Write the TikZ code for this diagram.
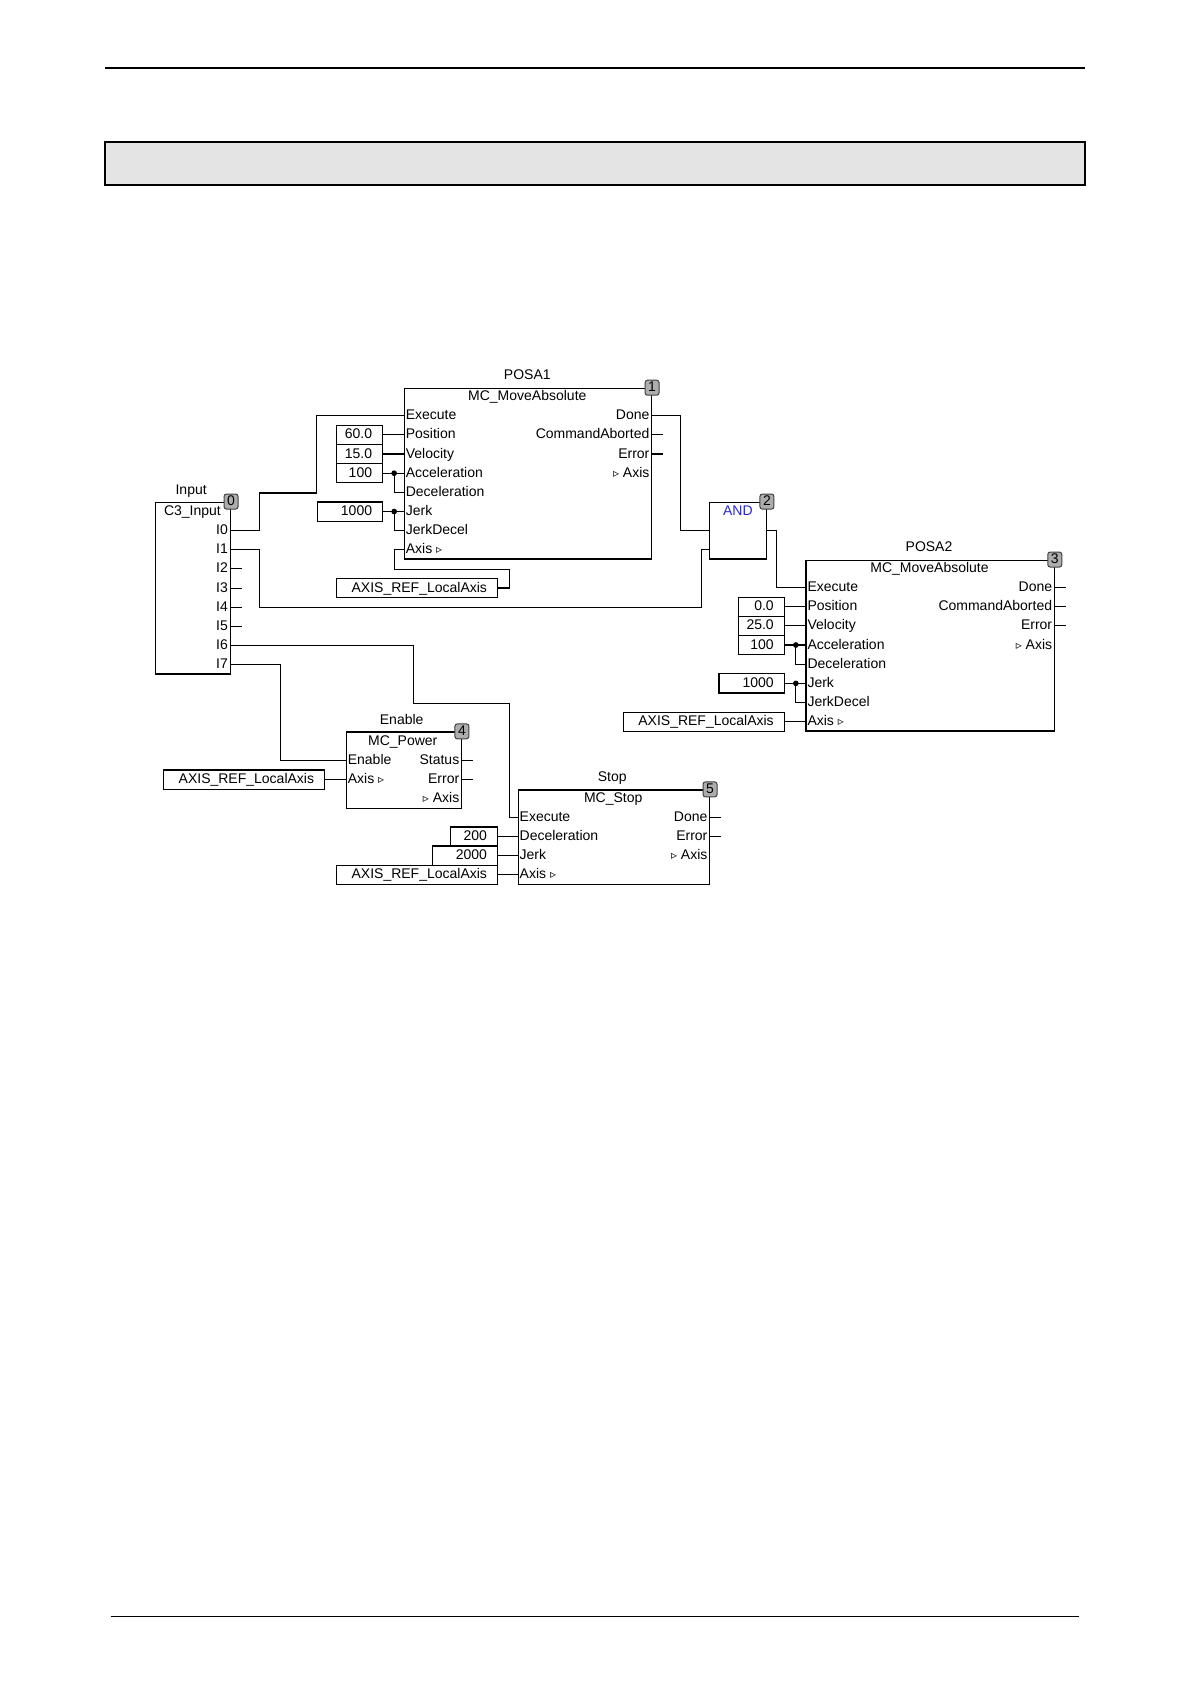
\documentclass[tikz,border=0pt]{standalone}
\usepackage{fontspec}
\setmainfont{Liberation Sans}
\newfontfamily\symf{DejaVu Sans}
\definecolor{hdr}{RGB}{228,228,228}
\definecolor{andblue}{RGB}{40,40,215}
\newdimen\ux \ux=0.537pt
\newcommand\tri{{\symf\fontsize{6}{7}\selectfont ▹}}
\newcommand\cbx[4]{\node[cbox] (#1) at (#2) {\hbox to #3\ux{\hfil #4\hskip 10\ux}};}
\tikzset{
 every node/.style={font=\fontsize{7}{8.4}\selectfont, inner sep=0pt},
 wire/.style={line width=0.55pt},
 blk/.style={draw, line width=0.6pt, anchor=north west},
 pinl/.style={anchor=west, text height=5.1pt, text depth=1pt},
 pinr/.style={anchor=east, text height=5.1pt, text depth=1pt},
 ttl/.style={text height=5.1pt, text depth=1pt},
 cbox/.style={draw, line width=0.6pt, anchor=east, minimum height=17.86*0.537pt, text height=5.1pt, text depth=1pt},
 badge/.style={draw=black!75, fill=black!32, rounded corners=1.2pt, minimum width=13*0.537pt, minimum height=14*0.537pt, line width=0.5pt, text height=5.1pt, text depth=1pt},
 jdot/.style={circle, draw=black, fill=black, inner sep=0pt, minimum size=2.4pt},
}
\begin{document}
\begin{tikzpicture}[x=0.537pt,y=-0.537pt]
\fill[white] (0,0) rectangle (1108,1568);
\useasboundingbox (0,0) rectangle (1108,1568);
% page header / footer
\draw[line width=1.1pt] (98,63) -- (1010,63);
\draw[line width=0.8pt, fill=hdr] (98,132) rectangle (1010,172);
\draw[line width=0.7pt] (103,1505) -- (1005,1505);

% ---------- Input block ----------
\node[blk, minimum width=70*0.537pt, minimum height=160*0.537pt] (inp) at (144,467) {};
\node[ttl] (inpt) at (178,457) {Input};
\node[pinr] (inpty) at (206,476.5) {C3\_Input};
\foreach \i/\y in {0/494.0,1/511.9,2/529.7,3/547.6,4/565.4,5/583.3,6/601.2,7/619.0}
  \node[pinr] (I\i) at (212.5,\y) {I\i};
\foreach \i in {2,...,5} \draw[wire] (inp.east |- I\i) -- ++(10,0);

% ---------- POSA1 ----------
\node[blk, minimum width=230*0.537pt, minimum height=159*0.537pt] (posa1) at (376,361) {};
\node[ttl] (posa1t) at (491,350) {POSA1};
\node[ttl] (posa1ty) at (491,369) {MC\_MoveAbsolute};
\node[pinl] (p1exe) at (377.5,387.0) {Execute};
\node[pinl] (p1pos) at (377.5,404.9) {Position};
\node[pinl] (p1vel) at (377.5,422.7) {Velocity};
\node[pinl] (p1acc) at (377.5,440.6) {Acceleration};
\node[pinl] (p1dec) at (377.5,458.4) {Deceleration};
\node[pinl] (p1jrk) at (377.5,476.3) {Jerk};
\node[pinl] (p1jd) at (377.5,494.2) {JerkDecel};
\node[pinl] (p1axis) at (377.5,512.0) {Axis \tri};
\node[pinr] (p1done) at (605,387.0) {Done};
\node[pinr] (p1ca) at (605,404.9) {CommandAborted};
\node[pinr] (p1err) at (605,422.7) {Error};
\node[pinr] (p1ax) at (605,440.6) {\tri\ Axis};
\cbx{c1a}{357,404.9}{43}{60.0}
\cbx{c1b}{357,422.7}{43}{15.0}
\cbx{c1c}{357,440.6}{43}{100}
\cbx{c1d}{357,476.3}{61}{1000}
\cbx{ax1}{464,547.5}{150}{AXIS\_REF\_LocalAxis}
\draw[wire] (c1a.east) -- (posa1.west |- c1a.east);
\draw[wire] (c1b.east) -- (posa1.west |- c1b.east);
\draw[wire] (c1c.east) -- (posa1.west |- c1c.east);
\draw[wire] (c1d.east) -- (posa1.west |- c1d.east);
\node[jdot] (j1) at (367,440.6) {};
\node[jdot] (j2) at (367,476.3) {};
\draw[wire] (j1.center) |- (posa1.west |- p1dec);
\draw[wire] (j2.center) |- (posa1.west |- p1jd);
\draw[wire] (ax1.east) -| (474,530) -| (367,512) -- (posa1.west |- p1axis);
\draw[wire] (posa1.east |- p1ca) -- ++(10,0);
\draw[wire] (posa1.east |- p1err) -- ++(10,0);

% ---------- AND ----------
\node[blk, minimum width=53*0.537pt, minimum height=53*0.537pt] (andb) at (660,467) {};
\node[ttl, text=andblue] (andt) at (687,476) {AND};
\coordinate (andA) at (660,494.0);
\coordinate (andB) at (660,511.9);

% ---------- POSA2 ----------
\node[blk, minimum width=231*0.537pt, minimum height=159*0.537pt] (posa2) at (750,521) {};
\node[ttl] (posa2t) at (865,510) {POSA2};
\node[ttl] (posa2ty) at (865.5,529) {MC\_MoveAbsolute};
\node[pinl] (p2exe) at (751.5,547.0) {Execute};
\node[pinl] (p2pos) at (751.5,564.9) {Position};
\node[pinl] (p2vel) at (751.5,582.7) {Velocity};
\node[pinl] (p2acc) at (751.5,600.6) {Acceleration};
\node[pinl] (p2dec) at (751.5,618.4) {Deceleration};
\node[pinl] (p2jrk) at (751.5,636.3) {Jerk};
\node[pinl] (p2jd) at (751.5,654.2) {JerkDecel};
\node[pinl] (p2axis) at (751.5,672.0) {Axis \tri};
\node[pinr] (p2done) at (980,547.0) {Done};
\node[pinr] (p2ca) at (980,564.9) {CommandAborted};
\node[pinr] (p2err) at (980,582.7) {Error};
\node[pinr] (p2ax) at (980,600.6) {\tri\ Axis};
\cbx{c3a}{731,564.9}{43}{0.0}
\cbx{c3b}{731,582.7}{43}{25.0}
\cbx{c3c}{731,600.6}{43}{100}
\cbx{c3d}{731,636.3}{61}{1000}
\cbx{ax3}{731,672.0}{150}{AXIS\_REF\_LocalAxis}
\draw[wire] (c3a.east) -- (posa2.west |- c3a.east);
\draw[wire] (c3b.east) -- (posa2.west |- c3b.east);
\draw[wire] (c3c.east) -- (posa2.west |- c3c.east);
\draw[wire] (c3d.east) -- (posa2.west |- c3d.east);
\draw[wire] (ax3.east) -- (posa2.west |- ax3.east);
\node[jdot] (j3) at (741,600.6) {};
\node[jdot] (j4) at (741,636.3) {};
\draw[wire] (j3.center) |- (posa2.west |- p2dec);
\draw[wire] (j4.center) |- (posa2.west |- p2jd);
\draw[wire] (posa2.east |- p2done) -- ++(10,0);
\draw[wire] (posa2.east |- p2ca) -- ++(10,0);
\draw[wire] (posa2.east |- p2err) -- ++(10,0);

% ---------- MC_Power ----------
\node[blk, minimum width=107*0.537pt, minimum height=71*0.537pt] (pwr) at (322,681) {};
\node[ttl] (pwrt) at (374,671) {Enable};
\node[ttl] (pwrty) at (375,690) {MC\_Power};
\node[pinl] (p4en) at (323.5,708.0) {Enable};
\node[pinl] (p4axis) at (323.5,725.9) {Axis \tri};
\node[pinr] (p4st) at (428,708.0) {Status};
\node[pinr] (p4err) at (428,725.9) {Error};
\node[pinr] (p4ax) at (428,743.7) {\tri\ Axis};
\cbx{ax4}{303,725.9}{150}{AXIS\_REF\_LocalAxis}
\draw[wire] (ax4.east) -- (pwr.west |- ax4.east);
\draw[wire] (pwr.east |- p4st) -- ++(10,0);
\draw[wire] (pwr.east |- p4err) -- ++(10,0);

% ---------- MC_Stop ----------
\node[blk, minimum width=178*0.537pt, minimum height=88*0.537pt] (stop) at (482,735) {};
\node[ttl] (stopt) at (570,724) {Stop};
\node[ttl] (stopty) at (571,743) {MC\_Stop};
\node[pinl] (p5exe) at (483.5,761.0) {Execute};
\node[pinl] (p5dec) at (483.5,778.9) {Deceleration};
\node[pinl] (p5jrk) at (483.5,796.7) {Jerk};
\node[pinl] (p5axis) at (483.5,814.6) {Axis \tri};
\node[pinr] (p5done) at (659,761.0) {Done};
\node[pinr] (p5err) at (659,778.9) {Error};
\node[pinr] (p5ax) at (659,796.7) {\tri\ Axis};
\cbx{c5a}{464,778.9}{44}{200}
\cbx{c5b}{464,796.7}{61}{2000}
\cbx{ax5}{464,814.6}{150}{AXIS\_REF\_LocalAxis}
\draw[wire] (c5a.east) -- (stop.west |- c5a.east);
\draw[wire] (c5b.east) -- (stop.west |- c5b.east);
\draw[wire] (ax5.east) -- (stop.west |- ax5.east);
\draw[wire] (stop.east |- p5done) -- ++(10,0);
\draw[wire] (stop.east |- p5err) -- ++(10,0);

% ---------- connections ----------
\draw[wire] (inp.east |- I0) -| (242,459) -| (295,387) -- (posa1.west |- p1exe);
\draw[wire] (inp.east |- I1) -| (242,565.5) -| (653,511.9) -- (andB);
\draw[wire] (posa1.east |- p1done) -| (634,494) -- (andA);
\draw[wire] (andb.east |- andA) -| (723,547) -- (posa2.west |- p2exe);
\draw[wire] (inp.east |- I6) -| (385,655) -| (474,761) -- (stop.west |- p5exe);
\draw[wire] (inp.east |- I7) -| (261,708) -- (pwr.west |- p4en);

% ---------- badges ----------
\node[badge] (bg0) at (inp.north east) {0};
\node[badge] (bg1) at (posa1.north east) {1};
\node[badge] (bg2) at (andb.north east) {2};
\node[badge] (bg3) at (posa2.north east) {3};
\node[badge] (bg4) at (pwr.north east) {4};
\node[badge] (bg5) at (stop.north east) {5};
\end{tikzpicture}
\end{document}
